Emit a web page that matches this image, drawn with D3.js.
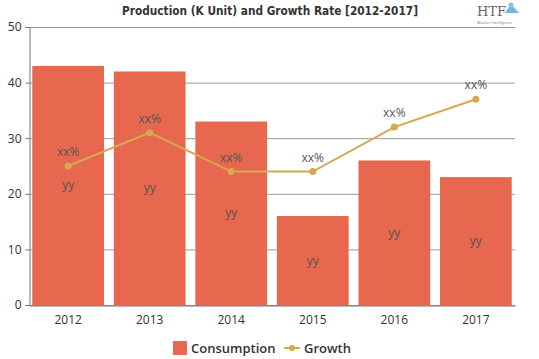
<!DOCTYPE html>
<html>
<head>
<meta charset="utf-8">
<script src="https://cdn.jsdelivr.net/npm/d3@7"></script>
<style>
  html, body { margin: 0; padding: 0; background: #fff; }
  svg { display: block; }
</style>
</head>
<body>
<svg id="chart" width="539" height="359"></svg>
<script>
const years = ["2012", "2013", "2014", "2015", "2016", "2017"];
const consumption = [43, 42, 33, 16, 26, 23];
const growth = [25, 31, 24, 24, 32, 37];
const consumptionLabels = ["yy", "yy", "yy", "yy", "yy", "yy"];
const growthLabels = ["xx%", "xx%", "xx%", "xx%", "xx%", "xx%"];
const yTicks = [0, 10, 20, 30, 40, 50];
const titleText = "Production (K Unit) and Growth Rate [2012-2017]";
const legendNames = ["Consumption", "Growth"];

const barColor = "#E8684F";
const lineColor = "#D4A94F";
const font = "'Open Sans', 'Noto Sans', sans-serif";

const svg = d3.select("#chart");
const margin = { left: 29, right: 24, top: 27, bottom: 54 };
const W = 539, H = 359;

const x = d3.scaleBand().domain(years).range([margin.left, W - margin.right]).paddingInner(0.12).paddingOuter(0.04);
const y = d3.scaleLinear().domain([0, 50]).range([H - margin.bottom, margin.top]);

// gridlines
svg.append("g").selectAll("line").data(yTicks).join("line")
  .attr("x1", margin.left).attr("x2", W - margin.right)
  .attr("y1", d => y(d) + 0.5).attr("y2", d => y(d) + 0.5)
  .attr("stroke", "#9a9a9a").attr("stroke-width", 1);

// bars
svg.append("g").selectAll("rect").data(years).join("rect")
  .attr("x", d => x(d)).attr("width", x.bandwidth())
  .attr("y", (d, i) => y(consumption[i]))
  .attr("height", (d, i) => y(0) - y(consumption[i]))
  .attr("fill", barColor);

// y axis
const yAxis = d3.axisLeft(y).tickValues(yTicks).tickSize(4).tickPadding(4);
const gy = svg.append("g").attr("transform", `translate(${margin.left + 0.5},0)`).call(yAxis);
gy.select(".domain").attr("stroke", "#777");
gy.selectAll(".tick line").attr("stroke", "#777");
gy.selectAll("text").attr("font-family", font).attr("font-size", 12).attr("fill", "#333");

// x axis
const xAxis = d3.axisBottom(x).tickSize(0).tickPadding(10);
const gx = svg.append("g").attr("transform", `translate(0,${y(0) + 0.5})`).call(xAxis);
gx.select(".domain").attr("stroke", "#777");
gx.selectAll("text").attr("font-family", font).attr("font-size", 12).attr("fill", "#333");

// bar labels
svg.append("g").selectAll("text").data(years).join("text")
  .attr("x", d => x(d) + x.bandwidth() / 2)
  .attr("y", (d, i) => y(consumption[i] / 2) + 4)
  .attr("text-anchor", "middle")
  .attr("font-family", font).attr("font-size", 12).attr("fill", "#555")
  .text((d, i) => consumptionLabels[i]);

// growth line
const line = d3.line().x((d, i) => x(years[i]) + x.bandwidth() / 2).y(d => y(d));
svg.append("path").datum(growth).attr("d", line)
  .attr("fill", "none").attr("stroke", lineColor).attr("stroke-width", 2);
svg.append("g").selectAll("circle").data(growth).join("circle")
  .attr("cx", (d, i) => x(years[i]) + x.bandwidth() / 2)
  .attr("cy", d => y(d)).attr("r", 3.5).attr("fill", lineColor);
svg.append("g").selectAll("text").data(growth).join("text")
  .attr("x", (d, i) => x(years[i]) + x.bandwidth() / 2)
  .attr("y", d => y(d) - 10)
  .attr("text-anchor", "middle")
  .attr("font-family", font).attr("font-size", 12).attr("fill", "#555")
  .text((d, i) => growthLabels[i]);

// title
svg.append("text").attr("x", 270).attr("y", 15).attr("text-anchor", "middle")
  .attr("font-family", "'DejaVu Sans Condensed', 'DejaVu Sans', sans-serif")
  .attr("font-weight", "bold").attr("font-size", 12).attr("fill", "#333")
  .attr("textLength", 296).attr("lengthAdjust", "spacingAndGlyphs")
  .text(titleText);

// logo
const logo = svg.append("g");
logo.append("text").attr("x", 477).attr("y", 16).attr("font-family", "'DejaVu Serif', serif")
  .attr("font-size", 13).attr("fill", "#666").text("HTF");
logo.append("path").attr("d", "M505,13 L511,4 L519,13 Z").attr("fill", "#4aa3d8").attr("opacity", 0.8);
logo.append("circle").attr("cx", 511).attr("cy", 5).attr("r", 2.5).attr("fill", "#7fc3e6");
logo.append("text").attr("x", 477).attr("y", 24).attr("font-family", font)
  .attr("font-size", 4).attr("fill", "#777").text("Market Intelligence");

// legend
const lg = svg.append("g");
lg.append("rect").attr("x", 173).attr("y", 341).attr("width", 14).attr("height", 14).attr("fill", barColor);
lg.append("text").attr("x", 191).attr("y", 353).attr("font-family", font).attr("font-size", 13)
  .attr("font-weight", 600).attr("fill", "#333").text(legendNames[0]);
lg.append("line").attr("x1", 284).attr("x2", 300).attr("y1", 348).attr("y2", 348)
  .attr("stroke", lineColor).attr("stroke-width", 2);
lg.append("circle").attr("cx", 292).attr("cy", 348).attr("r", 3).attr("fill", lineColor);
lg.append("text").attr("x", 304).attr("y", 353).attr("font-family", font).attr("font-size", 13)
  .attr("font-weight", 600).attr("fill", "#333").text(legendNames[1]);
</script>
</body>
</html>
